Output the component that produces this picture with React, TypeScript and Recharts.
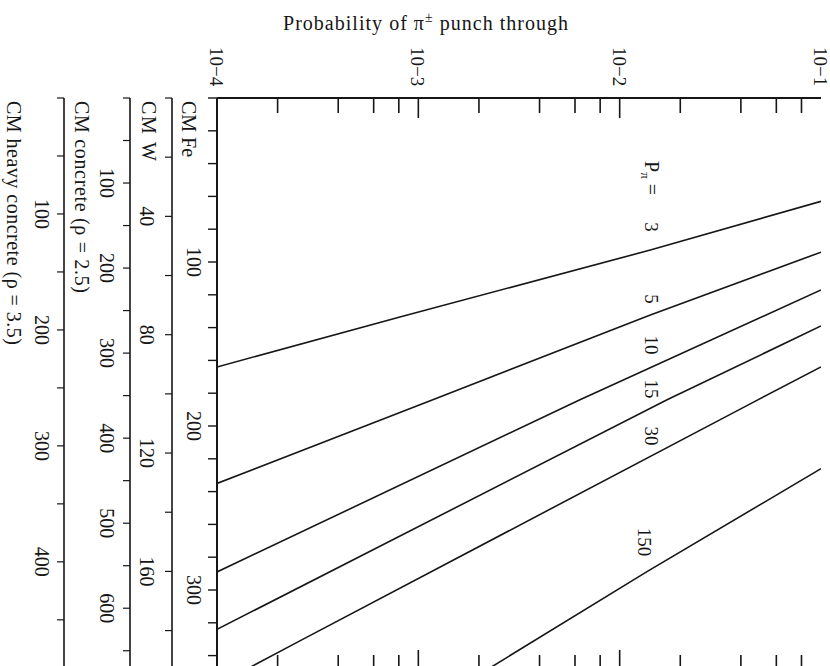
import { LineChart, Line, XAxis, YAxis, ReferenceDot } from "recharts";

const FONT = '"Liberation Serif", "DejaVu Serif", serif';
const INK = "#161616";

// probability of punch through (log axis, top and bottom)
const probTicks = [
  1e-4, 2e-4, 4e-4, 6e-4, 8e-4, 1e-3, 2e-3, 4e-3, 6e-3, 8e-3, 1e-2, 2e-2, 4e-2, 6e-2, 8e-2, 1e-1,
];

// thickness scales (cm)
const feTicks = [0, 20, 40, 60, 80, 100, 120, 140, 160, 180, 200, 220, 240, 260, 280, 300, 320, 340];
const feLabels = [100, 200, 300];
const feRightTicks = [100, 200, 300];
const wTicks = [0, 20, 40, 60, 80, 100, 120, 140, 160, 180];
const wLabels = [40, 80, 120, 160];
const concTicks = [0, 50, 100, 150, 200, 250, 300, 350, 400, 450, 500, 550, 600, 650];
const concLabels = [100, 200, 300, 400, 500, 600];
const heavyTicks = [0, 50, 100, 150, 200, 250, 300, 350, 400, 450];
const heavyLabels = [100, 200, 300, 400];

// curves: p = probability, fe = cm of iron, one per pion momentum
const p3 = [
  { p: 1e-4, fe: 164 },
  { p: 8.1e-4, fe: 133.5 },
  { p: 0.0142, fe: 92.7 },
  { p: 0.1, fe: 63 },
];
const p5 = [
  { p: 1e-4, fe: 235 },
  { p: 1.18e-3, fe: 184 },
  { p: 0.0142, fe: 132.3 },
  { p: 0.1, fe: 94 },
];
const p10 = [
  { p: 1e-4, fe: 289 },
  { p: 6.35e-3, fe: 184 },
  { p: 0.1, fe: 117 },
];
const p15 = [
  { p: 1e-4, fe: 324 },
  { p: 0.0172, fe: 184 },
  { p: 0.1, fe: 139 },
];
const p30 = [
  { p: 1.32e-4, fe: 350 },
  { p: 2.58e-4, fe: 331 },
  { p: 0.0445, fe: 186.5 },
  { p: 0.1, fe: 164 },
];
const p150 = [
  { p: 2.1e-3, fe: 350 },
  { p: 0.0138, fe: 288.5 },
  { p: 0.1, fe: 226 },
];

const curves = [p3, p5, p10, p15, p30, p150];

const curveLabels = [
  { text: "3", p: 0.01336, fe: 78.7 },
  { text: "5", p: 0.01336, fe: 122.6 },
  { text: "10", p: 0.01336, fe: 150.6 },
  { text: "15", p: 0.01336, fe: 177.4 },
  { text: "30", p: 0.01336, fe: 206.1 },
  { text: "150", p: 0.01233, fe: 270.7 },
];

const rot = (x: number, y: number) => `rotate(90 ${x} ${y})`;

const ProbTickTop = (props: any) => {
  const { x, y, payload } = props;
  const lg = Math.log10(payload.value);
  const decade = Math.abs(lg - Math.round(lg)) < 1e-6;
  const edge = payload.value < 1.01e-4 || payload.value > 0.099;
  const bx = x - 7;
  const by = y - 51;
  return (
    <g>
      {!edge && (
        <line x1={x} x2={x} y1={y} y2={y + (decade ? 20 : 15)} stroke={INK} strokeWidth={1.6} />
      )}
      {decade && (
        <text x={bx} y={by} transform={rot(bx, by)} fontSize={19} fontFamily={FONT} fill={INK}>
          {`10−${-Math.round(lg)}`}
        </text>
      )}
    </g>
  );
};

const ProbTickBottom = (props: any) => {
  const { x, y, payload } = props;
  const lg = Math.log10(payload.value);
  const decade = Math.abs(lg - Math.round(lg)) < 1e-6;
  const edge = payload.value < 1.01e-4 || payload.value > 0.099;
  if (edge) return <g />;
  return <line x1={x} x2={x} y1={y} y2={y - (decade ? 22 : 17)} stroke={INK} strokeWidth={1.6} />;
};

const sideTick = (labels: number[], dx: number) => (props: any) => {
  const { x, y, payload } = props;
  if (!labels.includes(payload.value)) return <g />;
  const bx = x - dx;
  return (
    <text x={bx} y={y} transform={rot(bx, y)} textAnchor="middle" fontSize={20} fontFamily={FONT} fill={INK}>
      {payload.value}
    </text>
  );
};

const sideTitle = (text: string, bx: number, len?: number) => () => (
  <text
    x={bx}
    y={101}
    transform={rot(bx, 101)}
    fontSize={20}
    fontFamily={FONT}
    fill={INK}
    textLength={len}
    lengthAdjust="spacing"
  >
    {text}
  </text>
);

const TopTitle = () => (
  <text x={283} y={30} fontSize={20} fontFamily={FONT} fill={INK} textLength={285} lengthAdjust="spacing">
    Probability of π
    <tspan dy={-8} fontSize={14}>±</tspan>
    <tspan dy={8}> punch through</tspan>
  </text>
);

export default function App() {
  return (
    <div
      style={{
        position: "absolute",
        left: 0,
        top: 0,
        width: 830,
        height: 666,
        overflow: "hidden",
        background: "#fff",
      }}
    >
      <LineChart width={830} height={700} margin={{ top: 0, right: 9, bottom: 0, left: 0 }}>
        <XAxis
          xAxisId="top"
          orientation="top"
          type="number"
          dataKey="p"
          scale="log"
          domain={[1e-4, 0.1]}
          allowDataOverflow
          ticks={probTicks}
          interval={0}
          height={98}
          tickSize={0}
          tickMargin={0}
          tickLine={false}
          tick={<ProbTickTop />}
          axisLine={{ stroke: INK, strokeWidth: 2 }}
          label={<TopTitle />}
        />
        <XAxis
          xAxisId="bottom"
          orientation="bottom"
          type="number"
          dataKey="p"
          scale="log"
          domain={[1e-4, 0.1]}
          allowDataOverflow
          ticks={probTicks}
          interval={0}
          height={28}
          tickSize={0}
          tickMargin={0}
          tickLine={false}
          tick={<ProbTickBottom />}
          axisLine={{ stroke: INK, strokeWidth: 2 }}
        />
        <YAxis
          yAxisId="a_fe"
          orientation="left"
          type="number"
          reversed
          domain={[0, 350]}
          allowDataOverflow
          ticks={feTicks}
          interval={0}
          width={45}
          tickSize={9}
          tickMargin={0}
          tick={sideTick(feLabels, 21)}
          tickLine={{ stroke: INK, strokeWidth: 1.4 }}
          axisLine={{ stroke: INK, strokeWidth: 2 }}
          label={sideTitle("CM Fe", 182)}
        />
        <YAxis
          yAxisId="b_w"
          orientation="left"
          type="number"
          reversed
          domain={[0, 194]}
          allowDataOverflow
          ticks={wTicks}
          interval={0}
          width={42}
          tickSize={7}
          tickMargin={0}
          tick={sideTick(wLabels, 25)}
          tickLine={{ stroke: INK, strokeWidth: 1.2 }}
          axisLine={{ stroke: INK, strokeWidth: 1.6 }}
          label={sideTitle("CM W", 142, 60)}
        />
        <YAxis
          yAxisId="c_conc"
          orientation="left"
          type="number"
          reversed
          domain={[0, 675]}
          allowDataOverflow
          ticks={concTicks}
          interval={0}
          width={66}
          tickSize={7}
          tickMargin={0}
          tick={sideTick(concLabels, 23)}
          tickLine={{ stroke: INK, strokeWidth: 1.2 }}
          axisLine={{ stroke: INK, strokeWidth: 1.6 }}
          label={sideTitle("CM concrete (ρ = 2.5)", 75, 192)}
        />
        <YAxis
          yAxisId="d_heavy"
          orientation="left"
          type="number"
          reversed
          domain={[0, 495]}
          allowDataOverflow
          ticks={heavyTicks}
          interval={0}
          width={64}
          tickSize={7}
          tickMargin={0}
          tick={sideTick(heavyLabels, 22)}
          tickLine={{ stroke: INK, strokeWidth: 1.2 }}
          axisLine={{ stroke: INK, strokeWidth: 1.6 }}
          label={sideTitle("CM heavy concrete (ρ = 3.5)", 7, 244)}
        />
        <YAxis
          yAxisId="e_feR"
          orientation="right"
          mirror
          type="number"
          reversed
          domain={[0, 350]}
          allowDataOverflow
          ticks={feRightTicks}
          interval={0}
          width={0}
          tickSize={13}
          tick={false}
          tickLine={{ stroke: INK, strokeWidth: 1.4 }}
          axisLine={{ stroke: INK, strokeWidth: 2 }}
        />

        {curves.map((c, i) => (
          <Line
            key={i}
            data={c}
            xAxisId="top"
            yAxisId="a_fe"
            dataKey="fe"
            type="linear"
            stroke={INK}
            strokeWidth={1.6}
            dot={false}
            isAnimationActive={false}
          />
        ))}

        <ReferenceDot
          xAxisId="top"
          yAxisId="a_fe"
          x={0.01336}
          y={48.8}
          r={0}
          ifOverflow="visible"
          shape={(s: any) => (
            <text
              x={s.cx}
              y={s.cy}
              transform={rot(s.cx, s.cy)}
              textAnchor="middle"
              fontSize={20}
              fontFamily={FONT}
              fill={INK}
            >
              P<tspan dy={4} fontSize={13}>π</tspan>
              <tspan dy={-4}> =</tspan>
            </text>
          )}
        />
        {curveLabels.map((l) => (
          <ReferenceDot
            key={l.text}
            xAxisId="top"
            yAxisId="a_fe"
            x={l.p}
            y={l.fe}
            r={0}
            ifOverflow="visible"
            shape={(s: any) => (
              <text
                x={s.cx}
                y={s.cy}
                transform={rot(s.cx, s.cy)}
                textAnchor="middle"
                fontSize={19}
                fontFamily={FONT}
                fill={INK}
              >
                {l.text}
              </text>
            )}
          />
        ))}
      </LineChart>
    </div>
  );
}
